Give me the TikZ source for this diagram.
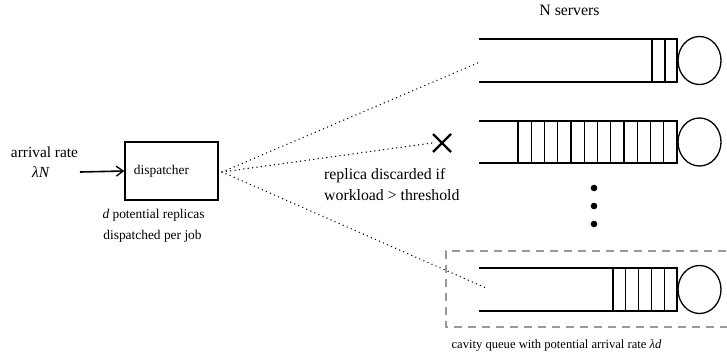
\documentclass[tikz,border=0pt]{standalone}
\usepackage{fontspec}
\setmainfont{Liberation Serif}
\usetikzlibrary{arrows.meta,shapes.geometric,calc}
\begin{document}
\begin{tikzpicture}[x=1pt,y=-1pt,
  lbl/.style={inner sep=0pt,anchor=base},
  qline/.style={line width=1.3pt},
  server/.style={ellipse,draw,line width=1.3pt,minimum width=43pt,minimum height=48pt,inner sep=0pt},
  dotline/.style={line width=1.5pt,dash pattern=on 0.01pt off 4.4pt,line cap=round},
  boxst/.style={draw,line width=1.4pt,minimum width=93pt,minimum height=58pt,inner sep=0pt}]
\useasboundingbox (0,0) rectangle (727,356);
% left labels
\node[lbl,font=\fontsize{15.4}{18}\selectfont] (arr) at (44.5,157) {arrival rate};
\node[lbl,font=\fontsize{15.4}{18}\selectfont] (lam) at (41,177) {\textit{λN}};
\node[boxst] (disp) at (171.5,171) {};
\node[lbl,font=\fontsize{13.4}{16}\selectfont] (dtxt) at (161.5,174) {dispatcher};
\node[lbl,font=\fontsize{13.4}{16}\selectfont] (d1) at (153.5,218) {\textit{d} potential replicas};
\node[lbl,font=\fontsize{13.4}{16}\selectfont] (d2) at (152.5,239) {dispatched per job};
\coordinate (ain) at (80,172);
\draw[line width=1.6pt,-{Straight Barb[length=7pt,width=10pt,line width=1.3pt]}] (ain) -- (disp.west);
% N servers
\node[lbl,font=\fontsize{15.8}{18}\selectfont] (ns) at (569.5,15) {N servers};
% queue 1
\draw[qline] (479,39) -- (677,39) -- (677,82) -- (479,82);
\foreach \x in {652,665} \draw[qline] (\x,39) -- (\x,82);
\node[server] (s1) at (699.5,60.5) {};
% queue 2
\draw[qline] (479,121) -- (677,121) -- (677,163) -- (479,163);
\foreach \i in {0,...,11} \draw[qline] (518+\i*13.25,121) -- (518+\i*13.25,163);
\node[server] (s2) at (699.5,142) {};
% queue 3
\draw[qline] (479,268) -- (677,268) -- (677,311) -- (479,311);
\foreach \i in {0,...,4} \draw[qline] (613+\i*12.8,268) -- (613+\i*12.8,311);
\node[server] (s3) at (699.5,289.5) {};
% dots
\foreach \y in {188,206,224} \fill (594,\y) circle (3.3pt);
% cavity box
\draw[gray!80,line width=1.2pt,dash pattern=on 8pt off 6pt] (740,251) -- (446,251) -- (446,327) -- (740,327);
\node[lbl,font=\fontsize{12.6}{15}\selectfont] (cav) at (556.5,348) {cavity queue with potential arrival rate \textit{λd}};
% cross
\coordinate (xc) at (442,143);
\draw[line width=2.4pt] ($(xc)+(-9,-9)$) -- ($(xc)+(9,9)$);
\draw[line width=2.4pt] ($(xc)+(-9,9)$) -- ($(xc)+(9,-9)$);
\node[lbl,font=\fontsize{15.8}{18}\selectfont,anchor=base west] (r1) at (324,179) {replica discarded if};
\node[lbl,font=\fontsize{15.8}{18}\selectfont,anchor=base west] (r2) at (324,200.5) {workload > threshold};
% dotted connectors
\coordinate (o) at (222,172);
\coordinate (e1) at (480,62);
\coordinate (e2) at (432,143);
\coordinate (e3) at (486,288);
\draw[dotline] (o) -- (e1);
\draw[dotline] (o) -- (e2);
\draw[dotline] (o) -- (e3);
\end{tikzpicture}
\end{document}
